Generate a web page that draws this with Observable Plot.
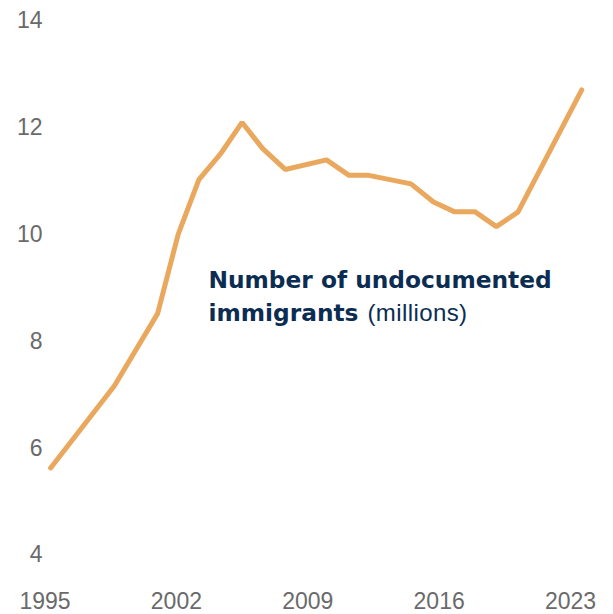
<!DOCTYPE html>
<html>
<head>
<meta charset="utf-8">
<script src="https://cdn.jsdelivr.net/npm/d3@7"></script>
<script src="https://cdn.jsdelivr.net/npm/@observablehq/plot@0.6"></script>
<style>
  html, body { margin: 0; padding: 0; background: #fff; overflow: hidden; }
</style>
</head>
<body>
<div id="chart"></div>
<script>
// Values
const years  = [1995.3, 1998.7, 2001.0, 2002.1, 2003.2, 2004.35, 2005.5, 2006.6, 2007.8, 2010.0,
                2011.2, 2012.25, 2014.5, 2015.7, 2016.8, 2017.9, 2019.05, 2020.2, 2023.6];
const values = [5.63, 7.17, 8.52, 10.01, 11.03, 11.51, 12.10, 11.61, 11.22, 11.40,
                11.11, 11.11, 10.95, 10.61, 10.43, 10.43, 10.15, 10.42, 12.71];
const xTicks = [1995, 2002, 2009, 2016, 2023];
const yTicks = [4, 6, 8, 10, 12, 14];
const labelTitle = "Number of undocumented\nimmigrants";
const labelUnit = "(millions)";
const labelAnchor = [{year: 2003.71, value: 9.33}];

const data = years.map((year, i) => ({year, value: values[i]}));

const chart = Plot.plot({
  width: 613,
  height: 614,
  marginLeft: 44.5,
  marginRight: 43,
  marginTop: 20.5,
  marginBottom: 59.5,
  style: {
    fontFamily: "'Liberation Sans', Arial, sans-serif",
    fontSize: "23px",
    color: "#6a6a6a",
    background: "#fff"
  },
  x: {domain: [1995, 2023], ticks: xTicks, tickFormat: d => String(d), tickSize: 0, tickPadding: 37.5, label: null},
  y: {domain: [4, 14], ticks: yTicks, tickSize: 0, tickPadding: 2.5, label: null},
  marks: [
    Plot.line(data, {
      x: "year", y: "value",
      stroke: "#E9A85E", strokeWidth: 5,
      strokeLinejoin: "miter", strokeLinecap: "round"
    }),
    Plot.text(labelAnchor, {
      x: "year", y: "value", text: () => labelTitle,
      textAnchor: "start", lineAnchor: "top", lineHeight: 1.44,
      dy: -6.5,
      fontFamily: "'DejaVu Sans', sans-serif",
      fontWeight: "bold", fontSize: 23.3, fill: "#0C2D52"
    }),
    Plot.text(labelAnchor, {
      x: "year", y: "value", text: () => labelUnit,
      textAnchor: "start", lineAnchor: "top",
      dx: 159, dy: 33.6,
      fontWeight: "normal", fontSize: 24, fill: "#0C2D52"
    })
  ]
});

d3.select(chart).selectAll("text").filter(function() {
  return this.textContent === labelUnit;
}).style("letter-spacing", "0.4px");

document.getElementById("chart").appendChild(chart);
</script>
</body>
</html>
